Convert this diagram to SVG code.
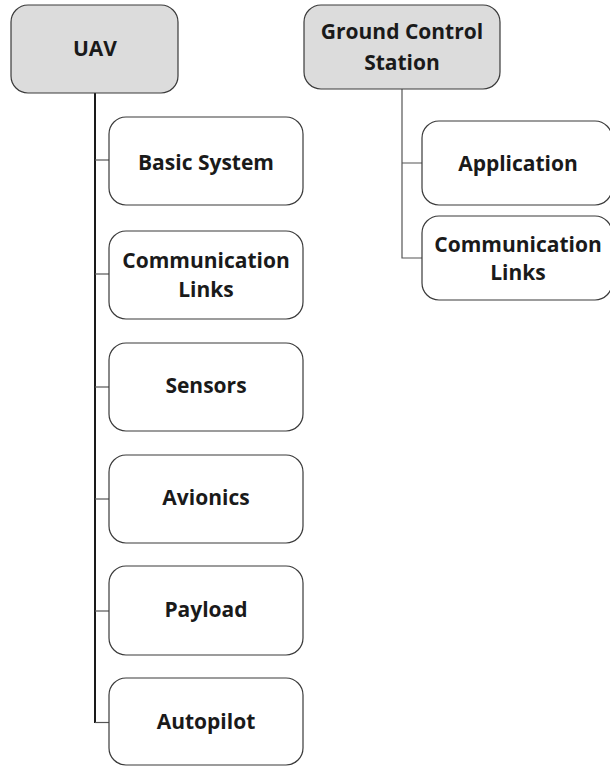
<svg xmlns="http://www.w3.org/2000/svg" width="610" height="767" viewBox="0 0 610 767">
<style>
.root{fill:#dcdcdc;stroke:#3a3a3a;stroke-width:1.2}
.child{fill:#ffffff;stroke:#3a3a3a;stroke-width:1.2}
text{font-family:"Open Sans","Liberation Sans",sans-serif;font-weight:bold;font-size:21px;fill:#1a1a1a;text-anchor:middle}
.stem{stroke:#1a1a1a;stroke-width:2;fill:none}
.br{stroke:#555;stroke-width:1.2;fill:none}
</style>
<g id="connectors">
<line class="stem" x1="95" y1="93" x2="95" y2="723"/>
<line class="br" x1="95" y1="160" x2="109" y2="160"/>
<line class="br" x1="95" y1="274" x2="109" y2="274"/>
<line class="br" x1="95" y1="387" x2="109" y2="387"/>
<line class="br" x1="95" y1="499" x2="109" y2="499"/>
<line class="br" x1="95" y1="611" x2="109" y2="611"/>
<path class="br" d="M95 722.5H109"/>
<path class="br" d="M402 89V258H422M402 163H422"/>
</g>
<g id="uav"><rect class="root" x="11" y="5" width="167" height="88" rx="17"/><text x="95" y="56">UAV</text></g>
<g id="gcs"><rect class="root" x="304" y="5" width="196" height="84" rx="17"/><text x="402" y="39">Ground Control</text><text x="402" y="70">Station</text></g>
<g id="basic"><rect class="child" x="109" y="117" width="194" height="88" rx="17"/><text x="206" y="170">Basic System</text></g>
<g id="comm"><rect class="child" x="109" y="231" width="194" height="88" rx="17"/><text x="206" y="268">Communication</text><text x="206" y="297">Links</text></g>
<g id="sensors"><rect class="child" x="109" y="343" width="194" height="88" rx="17"/><text x="206" y="393">Sensors</text></g>
<g id="avionics"><rect class="child" x="109" y="455" width="194" height="88" rx="17"/><text x="206" y="505">Avionics</text></g>
<g id="payload"><rect class="child" x="109" y="566" width="194" height="89" rx="17"/><text x="206" y="617">Payload</text></g>
<g id="autopilot"><rect class="child" x="109" y="678" width="194" height="87" rx="17"/><text x="206" y="729">Autopilot</text></g>
<g id="application"><rect class="child" x="422" y="121" width="190" height="84" rx="17"/><text x="518" y="171">Application</text></g>
<g id="gcscomm"><rect class="child" x="422" y="216" width="190" height="84" rx="17"/><text x="518" y="252">Communication</text><text x="518" y="280">Links</text></g>
</svg>
